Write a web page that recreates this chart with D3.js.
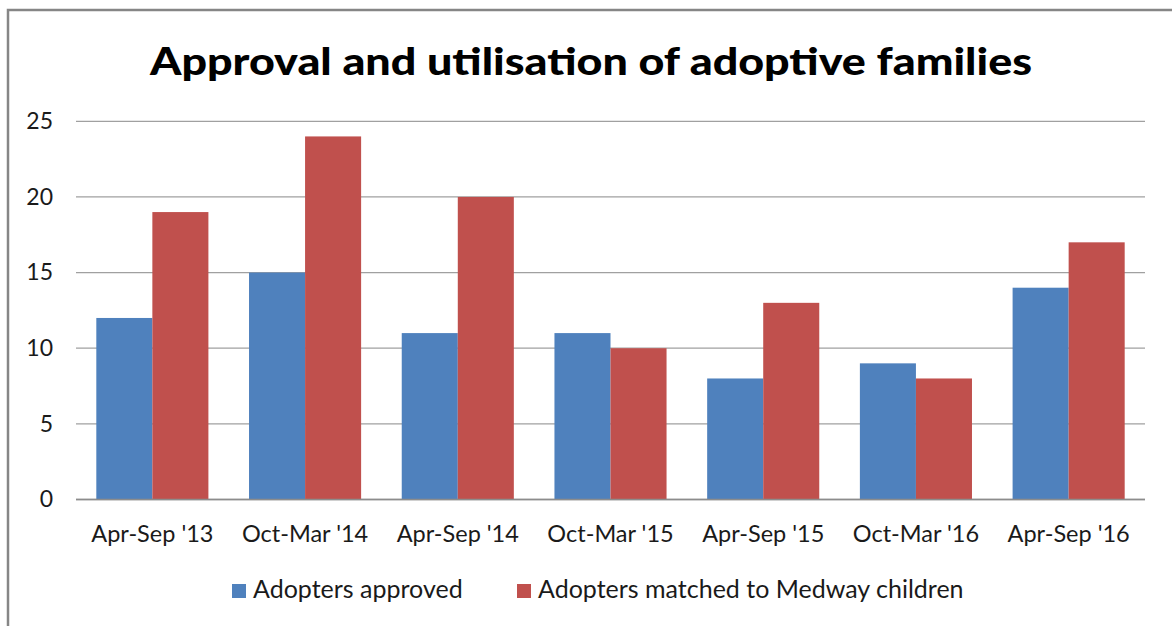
<!DOCTYPE html>
<html>
<head>
<meta charset="utf-8">
<script src="https://cdn.jsdelivr.net/npm/d3@7"></script>
<style>
  body { margin: 0; background: #fff; }
  svg { display: block; font-family: Lato, "Open Sans", sans-serif; }
</style>
</head>
<body>
<svg id="chart" width="1172" height="626"></svg>
<script>
// data
var periods = ["Apr-Sep '13", "Oct-Mar '14", "Apr-Sep '14", "Oct-Mar '15", "Apr-Sep '15", "Oct-Mar '16", "Apr-Sep '16"];
var approved = [12, 15, 11, 11, 8, 9, 14];
var matched = [19, 24, 20, 10, 13, 8, 17];
var seriesNames = ["Adopters approved", "Adopters matched to Medway children"];
var seriesColors = ["#4f81bd", "#c0504d"];
var yTicks = [0, 5, 10, 15, 20, 25];

var svg = d3.select("#chart");

// frame (only top and left visible)
svg.append("path")
  .attr("d", "M8,626 V10 H1172")
  .style("fill", "none")
  .style("stroke", "#868686")
  .style("stroke-width", 2.5);

var plot = {left: 76, right: 1145, top: 121.3, bottom: 499.5};

var x = d3.scaleBand().domain(periods).range([plot.left, plot.right]).padding(0);
var y = d3.scaleLinear().domain([0, 25]).range([plot.bottom, plot.top]);

// title
svg.append("text")
  .attr("x", 591)
  .attr("y", 75)
  .attr("text-anchor", "middle")
  .style("font-size", "38px")
  .style("font-weight", "900")
  .attr("textLength", 882)
  .attr("lengthAdjust", "spacingAndGlyphs")
  .text("Approval and utilisation of adoptive families");

// gridlines
svg.append("g")
  .selectAll("line").data(yTicks)
  .enter().append("line")
    .attr("x1", plot.left).attr("x2", plot.right)
    .attr("y1", function(d){ return y(d); })
    .attr("y2", function(d){ return y(d); })
    .style("stroke", "#a0a0a0")
    .style("stroke-width", 1.3);

// y axis labels
var yAxis = svg.append("g")
  .attr("transform", "translate(" + plot.left + ",0)")
  .call(d3.axisLeft(y).tickValues(yTicks).tickSize(0).tickPadding(23));
yAxis.select(".domain").remove();
yAxis.selectAll("text")
  .style("font-family", "Lato, 'Open Sans', sans-serif")
  .style("font-size", "23px")
  .style("fill", "#1a1a1a");

// bars
var barW = x.bandwidth() * 0.367;
var groups = svg.append("g").selectAll("g").data(periods)
  .enter().append("g");

groups.append("rect")
  .attr("x", function(d){ return x(d) + x.bandwidth() / 2 - barW; })
  .attr("y", function(d, i){ return y(approved[i]); })
  .attr("width", barW)
  .attr("height", function(d, i){ return y(0) - y(approved[i]); })
  .style("fill", seriesColors[0]);

groups.append("rect")
  .attr("x", function(d){ return x(d) + x.bandwidth() / 2; })
  .attr("y", function(d, i){ return y(matched[i]); })
  .attr("width", barW)
  .attr("height", function(d, i){ return y(0) - y(matched[i]); })
  .style("fill", seriesColors[1]);

// baseline
svg.append("line")
  .attr("x1", plot.left).attr("x2", plot.right)
  .attr("y1", y(0)).attr("y2", y(0))
  .style("stroke", "#8c8c8c")
  .style("stroke-width", 1.5);

// x axis labels
var xAxis = svg.append("g")
  .attr("transform", "translate(0," + plot.bottom + ")")
  .call(d3.axisBottom(x).tickSize(0).tickPadding(26));
xAxis.select(".domain").remove();
xAxis.selectAll("text")
  .style("font-family", "Lato, 'Open Sans', sans-serif")
  .style("font-size", "23.5px")
  .style("fill", "#1a1a1a");

// legend
var legendX = [232, 517];
var legend = svg.append("g").selectAll("g").data(seriesNames)
  .enter().append("g")
    .attr("transform", function(d, i){ return "translate(" + legendX[i] + ",584)"; });

legend.append("rect")
  .attr("width", 14).attr("height", 14)
  .style("fill", function(d, i){ return seriesColors[i]; });

legend.append("text")
  .attr("x", 21)
  .attr("y", 14)
  .style("font-size", "25px")
  .style("fill", "#1a1a1a")
  .text(function(d){ return d; });
</script>
</body>
</html>
